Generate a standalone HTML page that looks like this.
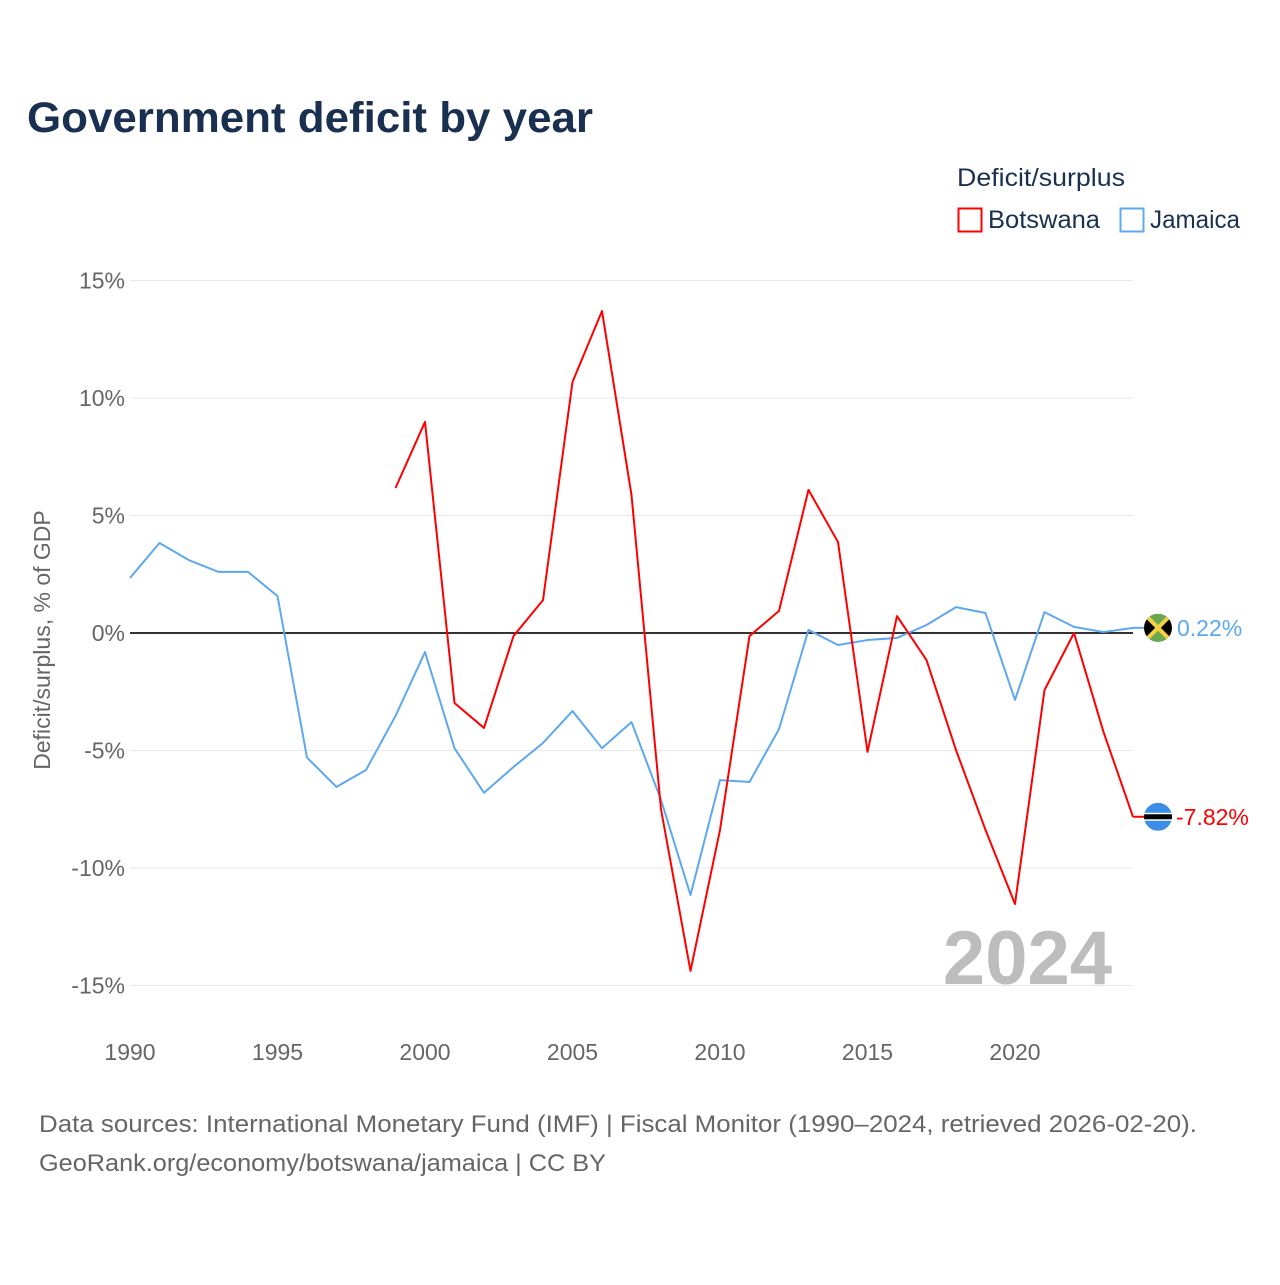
<!DOCTYPE html>
<html><head><meta charset="utf-8"><style>
html,body{margin:0;padding:0;background:#fff;}
body{width:1280px;height:1280px;overflow:hidden;font-family:"Liberation Sans",sans-serif;}
</style></head><body>
<svg id="chart" width="1280" height="1280" xmlns="http://www.w3.org/2000/svg" style="font-family:'Liberation Sans',sans-serif">
<text x="27" y="132" font-size="43" font-weight="bold" fill="#1a3050" textLength="566" lengthAdjust="spacingAndGlyphs">Government deficit by year</text>
<text x="957" y="186" font-size="25" fill="#1a3050" textLength="168" lengthAdjust="spacingAndGlyphs">Deficit/surplus</text>
<g><rect x="958.5" y="208.5" width="23" height="23" fill="none" stroke="#ff0000" stroke-width="2"/><text x="988" y="228" font-size="25" fill="#1a3050" textLength="112" lengthAdjust="spacingAndGlyphs">Botswana</text></g>
<g><rect x="1120.5" y="208.5" width="23" height="23" fill="none" stroke="#5ea8ed" stroke-width="2"/><text x="1150" y="228" font-size="25" fill="#1a3050" textLength="90" lengthAdjust="spacingAndGlyphs">Jamaica</text></g>
<text transform="translate(50,640) rotate(-90)" text-anchor="middle" font-size="23" fill="#666">Deficit/surplus, % of GDP</text>
<g id="grid"></g><g id="yticks"></g><g id="xticks"></g>
<text x="1112" y="984" text-anchor="end" font-size="76" font-weight="bold" fill="#bdbdbd">2024</text>
<g id="series"></g>
<text x="39" y="1132" font-size="24" fill="#666" textLength="1158" lengthAdjust="spacingAndGlyphs">Data sources: International Monetary Fund (IMF) | Fiscal Monitor (1990–2024, retrieved 2026-02-20).</text>
<text x="39" y="1171" font-size="24" fill="#666" textLength="567" lengthAdjust="spacingAndGlyphs">GeoRank.org/economy/botswana/jamaica | CC BY</text>
</svg>
<script>
const jamaicaYears = [1990,1991,1992,1993,1994,1995,1996,1997,1998,1999,2000,2001,2002,2003,2004,2005,2006,2007,2008,2009,2010,2011,2012,2013,2014,2015,2016,2017,2018,2019,2020,2021,2022,2023,2024];
const jamaicaValues = [2.34,3.83,3.1,2.6,2.6,1.57,-5.3,-6.55,-5.83,-3.53,-0.81,-4.9,-6.8,-5.7,-4.68,-3.32,-4.9,-3.79,-7.1,-11.15,-6.26,-6.34,-4.09,0.13,-0.51,-0.3,-0.21,0.34,1.1,0.85,-2.85,0.89,0.26,0.04,0.22];
const botswanaYears = [1999,2000,2001,2002,2003,2004,2005,2006,2007,2008,2009,2010,2011,2012,2013,2014,2015,2016,2017,2018,2019,2020,2021,2022,2023,2024];
const botswanaValues = [6.17,8.98,-2.98,-4.04,-0.13,1.4,10.68,13.7,5.87,-7.5,-14.38,-8.38,-0.13,0.94,6.09,3.87,-5.06,0.72,-1.15,-4.98,-8.38,-11.53,-2.43,0,-4.21,-7.82];
const yTicks = [15,10,5,0,-5,-10,-15];
const yTickLabels = ["15%","10%","5%","0%","-5%","-10%","-15%"];
const xTicks = [1990,1995,2000,2005,2010,2015,2020];

const NS="http://www.w3.org/2000/svg";
const X=y=>130+(y-1990)*(1133-130)/34;
const Y=v=>633-v*23.5;
function mk(tag,attrs,parent){const e=document.createElementNS(NS,tag);for(const k in attrs)e.setAttribute(k,attrs[k]);parent.appendChild(e);return e;}
const grid=document.getElementById('grid'),yt=document.getElementById('yticks'),xt=document.getElementById('xticks'),ser=document.getElementById('series');
yTicks.forEach((t,i)=>{
  const l=mk('line',{x1:130,x2:1133,y1:Y(t),y2:Y(t),stroke:t===0?'#333':'#e8e8e8','stroke-width':t===0?2:1},grid);
  
  
  const tx=mk('text',{x:125,y:Y(t)+8,'text-anchor':'end','font-size':23,fill:'#666'},yt);
  
  
  tx.textContent=yTickLabels[i];
});
xTicks.forEach(t=>{
  const tx=mk('text',{x:X(t),y:1060,'text-anchor':'middle','font-size':23,fill:'#666'},xt);
  
  
  tx.textContent=t;
});
function line(years,vals,color,name){
  const p=mk('polyline',{points:years.map((y,i)=>X(y)+','+Y(vals[i])).join(' '),fill:'none',stroke:color,'stroke-width':2,'stroke-linejoin':'round'},ser);
  
  
}
line(jamaicaYears,jamaicaValues,'#5ea8ed','jamaica-line');
line(botswanaYears,botswanaValues,'#ff0000','botswana-line');
const jv=jamaicaValues[jamaicaValues.length-1], bv=botswanaValues[botswanaValues.length-1];
const jy=Y(jv), by=Y(bv);
mk('line',{x1:1133,x2:1144,y1:jy,y2:jy,stroke:'#5ea8ed','stroke-width':2},ser);
mk('line',{x1:1133,x2:1144,y1:by,y2:by,stroke:'#ff0000','stroke-width':2},ser);
const jf=mk('g',{},ser);


mk('clipPath',{id:'cj'},jf);
mk('circle',{cx:1158,cy:jy,r:14},document.getElementById('cj'));
const jg=mk('g',{'clip-path':'url(#cj)'},jf);
mk('rect',{x:1144,y:jy-14,width:28,height:28,fill:'#000'},jg);
mk('polygon',{points:`1144,${jy-14} 1172,${jy-14} 1158,${jy}`,fill:'#6aa84f'},jg);
mk('polygon',{points:`1144,${jy+14} 1172,${jy+14} 1158,${jy}`,fill:'#6aa84f'},jg);
mk('line',{x1:1144,y1:jy-14,x2:1172,y2:jy+14,stroke:'#f5d142','stroke-width':4},jg);
mk('line',{x1:1172,y1:jy-14,x2:1144,y2:jy+14,stroke:'#f5d142','stroke-width':4},jg);
const bf=mk('g',{},ser);


mk('clipPath',{id:'cb'},bf);
mk('circle',{cx:1158,cy:by,r:14},document.getElementById('cb'));
const bg=mk('g',{'clip-path':'url(#cb)'},bf);
mk('rect',{x:1144,y:by-14,width:28,height:28,fill:'#3a8ee6'},bg);
mk('rect',{x:1144,y:by-4,width:28,height:8,fill:'#fff'},bg);
mk('rect',{x:1144,y:by-2.5,width:28,height:5,fill:'#000'},bg);
const jl=mk('text',{x:1177,y:jy+8,'font-size':23,fill:'#5ea8ed'},ser);


jl.textContent=jv.toFixed(2)+'%';
const bl=mk('text',{x:1176,y:by+8,'font-size':23,fill:'#ff0000'},ser);


bl.textContent=bv.toFixed(2)+'%';
</script>
</body></html>
